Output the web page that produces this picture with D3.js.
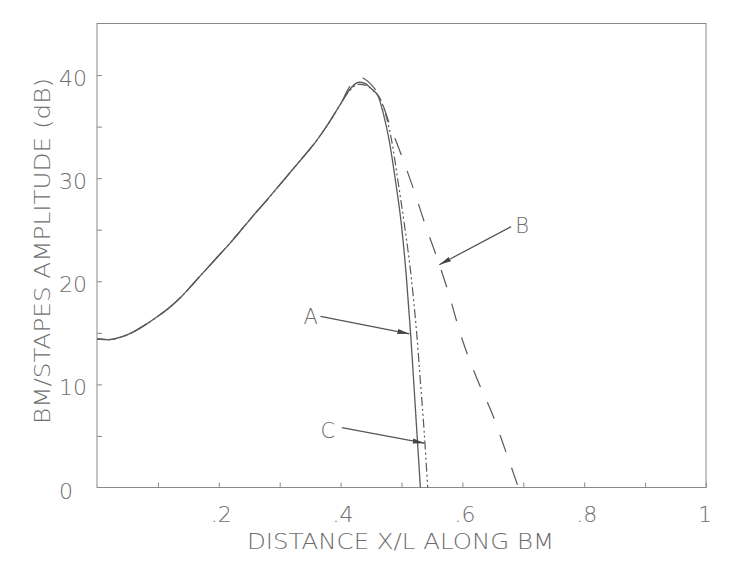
<!DOCTYPE html>
<html>
<head>
<meta charset="utf-8">
<script src="https://cdn.jsdelivr.net/npm/d3@7"></script>
<style>
  html, body { margin: 0; padding: 0; background: #fff; }
  svg { display: block; }
  text { font-family: "DejaVu Sans ExtraLight", "DejaVu Sans", sans-serif; font-weight: 200; fill: #6e6e6e; }
</style>
</head>
<body>
<svg id="chart" width="732" height="562"></svg>
<script>
// ---- data ----
const xCommon = [0, 0.02, 0.04, 0.06, 0.08, 0.10, 0.12, 0.14, 0.16, 0.18, 0.20, 0.22, 0.24, 0.26, 0.28, 0.30, 0.32, 0.34, 0.36, 0.38, 0.40];
const yCommon = [14.4, 14.35, 14.6, 15.1, 15.8, 16.6, 17.5, 18.6, 19.9, 21.2, 22.5, 23.8, 25.2, 26.6, 27.95, 29.35, 30.75, 32.15, 33.6, 35.3, 37.2];

const xTailA = [0.415, 0.43, 0.44, 0.45, 0.462, 0.47, 0.48, 0.49, 0.50, 0.508, 0.515, 0.52, 0.525, 0.531];
const yTailA = [38.6, 39.3, 39.2, 38.7, 37.9, 36.3, 33.6, 29.8, 25.4, 20.4, 14.9, 10.3, 5.6, 0];

const xTailC = [0.415, 0.43, 0.442, 0.453, 0.465, 0.474, 0.484, 0.494, 0.505, 0.516, 0.525, 0.531, 0.537, 0.543];
const yTailC = [38.5, 39.1, 39.0, 38.5, 37.7, 36.2, 33.6, 29.8, 25.4, 20.4, 14.9, 10.3, 5.6, 0];

const xTailB = [0.415, 0.428, 0.44, 0.45, 0.465, 0.48, 0.50, 0.52, 0.54, 0.56, 0.575, 0.60, 0.625, 0.65, 0.67, 0.692];
const yTailB = [38.9, 39.8, 39.6, 39.1, 37.8, 35.3, 32.2, 28.9, 25.3, 22.0, 19.3, 14.3, 10.4, 7.0, 3.7, 0];

const xTicks = [0.1, 0.2, 0.3, 0.4, 0.5, 0.6, 0.7, 0.8, 0.9, 1.0];
const xTickLabels = ["", ".2", "", ".4", "", ".6", "", ".8", "", "1"];
const yTicks = [5, 10, 15, 20, 25, 30, 35, 40];
const yTickLabels = ["0", "10", "20", "30", "40"];
const yLabelValues = [0, 10, 20, 30, 40];

const xTitle = "DISTANCE X/L ALONG BM";
const yTitle = "BM/STAPES AMPLITUDE (dB)";

// annotations: label, label position, arrow start, arrow tip (data units)
const annLabels = ["A", "C", "B"];
const annLabelPos = [[0.351, 16.6], [0.379, 5.6], [0.698, 25.5]];
const annFrom = [[0.367, 16.6], [0.402, 5.8], [0.680, 25.3]];
const annTo = [[0.513, 14.9], [0.538, 4.3], [0.562, 21.6]];

// ---- layout ----
const svg = d3.select("#chart");
const mLeft = 97, mRight = 706, mTop = 23.5, mBottom = 487.5;
const x = d3.scaleLinear().domain([0, 1]).range([mLeft, mRight]);
const y = d3.scaleLinear().domain([0, 45]).range([mBottom, mTop]);

const ink = "#8a8a8a";

// frame
svg.append("rect")
  .attr("x", mLeft).attr("y", mTop)
  .attr("width", mRight - mLeft).attr("height", mBottom - mTop)
  .attr("fill", "none").attr("stroke", ink).attr("stroke-width", 1);

// ticks (inward)
const xAxis = d3.axisTop(x).tickValues(xTicks).tickSize(5).tickFormat("");
svg.append("g").attr("transform", `translate(0,${mBottom})`).call(xAxis)
  .call(g => g.select(".domain").remove())
  .call(g => g.selectAll("line").attr("stroke", ink));
const yAxis = d3.axisRight(y).tickValues(yTicks).tickSize(5).tickFormat("");
svg.append("g").attr("transform", `translate(${mLeft},0)`).call(yAxis)
  .call(g => g.select(".domain").remove())
  .call(g => g.selectAll("line").attr("stroke", ink));

// tick labels
svg.append("g").selectAll("text").data(xTicks.map((v, i) => [v, xTickLabels[i]]).filter(d => d[1]))
  .join("text")
  .attr("x", d => x(d[0]) - 8)
  .attr("y", mBottom + 34)
  .attr("font-size", 22)
  .text(d => d[1]);

svg.append("g").selectAll("text").data(yLabelValues.map((v, i) => [v, yTickLabels[i]]))
  .join("text")
  .attr("x", 59)
  .attr("y", d => y(d[0]) + 11)
  .attr("font-size", 22)
  .text(d => d[1]);

// titles
svg.append("text")
  .attr("x", 247).attr("y", 549)
  .attr("font-size", 22)
  .attr("textLength", 307).attr("lengthAdjust", "spacingAndGlyphs")
  .text(xTitle);

svg.append("text")
  .attr("transform", "translate(50,424) rotate(-90)")
  .attr("x", 0).attr("y", 0)
  .attr("font-size", 22)
  .attr("textLength", 346).attr("lengthAdjust", "spacingAndGlyphs")
  .text(yTitle);

// curves
const common = xCommon.map((v, i) => [v, yCommon[i]]);
const curveA = common.concat(xTailA.map((v, i) => [v, yTailA[i]]));
const curveC = common.concat(xTailC.map((v, i) => [v, yTailC[i]]));
const curveB = common.concat(xTailB.map((v, i) => [v, yTailB[i]]));

const line = d3.line().x(d => x(d[0])).y(d => y(d[1])).curve(d3.curveMonotoneX);
const curveInk = "#5a5a5a";

svg.append("path").datum(curveB).attr("d", line)
  .attr("fill", "none").attr("stroke", curveInk).attr("stroke-width", 1.2)
  .attr("stroke-dasharray", "18,17");
svg.append("path").datum(curveC).attr("d", line)
  .attr("fill", "none").attr("stroke", curveInk).attr("stroke-width", 1.2)
  .attr("stroke-dasharray", "9,3,2,3,2,3");
svg.append("path").datum(curveA).attr("d", line)
  .attr("fill", "none").attr("stroke", curveInk).attr("stroke-width", 1.3);

// arrows
const defs = svg.append("defs");
defs.append("marker").attr("id", "arrow")
  .attr("viewBox", "0 0 12 6").attr("refX", 12).attr("refY", 3)
  .attr("markerWidth", 12).attr("markerHeight", 6)
  .attr("markerUnits", "userSpaceOnUse").attr("orient", "auto")
  .append("path").attr("d", "M0,0.5 L12,3 L0,5.5 Z").attr("fill", "#444");

const ann = svg.append("g");
annLabels.forEach((lab, i) => {
  ann.append("line")
    .attr("x1", x(annFrom[i][0])).attr("y1", y(annFrom[i][1]))
    .attr("x2", x(annTo[i][0])).attr("y2", y(annTo[i][1]))
    .attr("stroke", "#555").attr("stroke-width", 1.3)
    .attr("marker-end", "url(#arrow)");
  ann.append("text")
    .attr("x", x(annLabelPos[i][0])).attr("y", y(annLabelPos[i][1]) + 8)
    .attr("text-anchor", "middle")
    .attr("font-size", 21)
    .text(lab);
});
</script>
</body>
</html>
